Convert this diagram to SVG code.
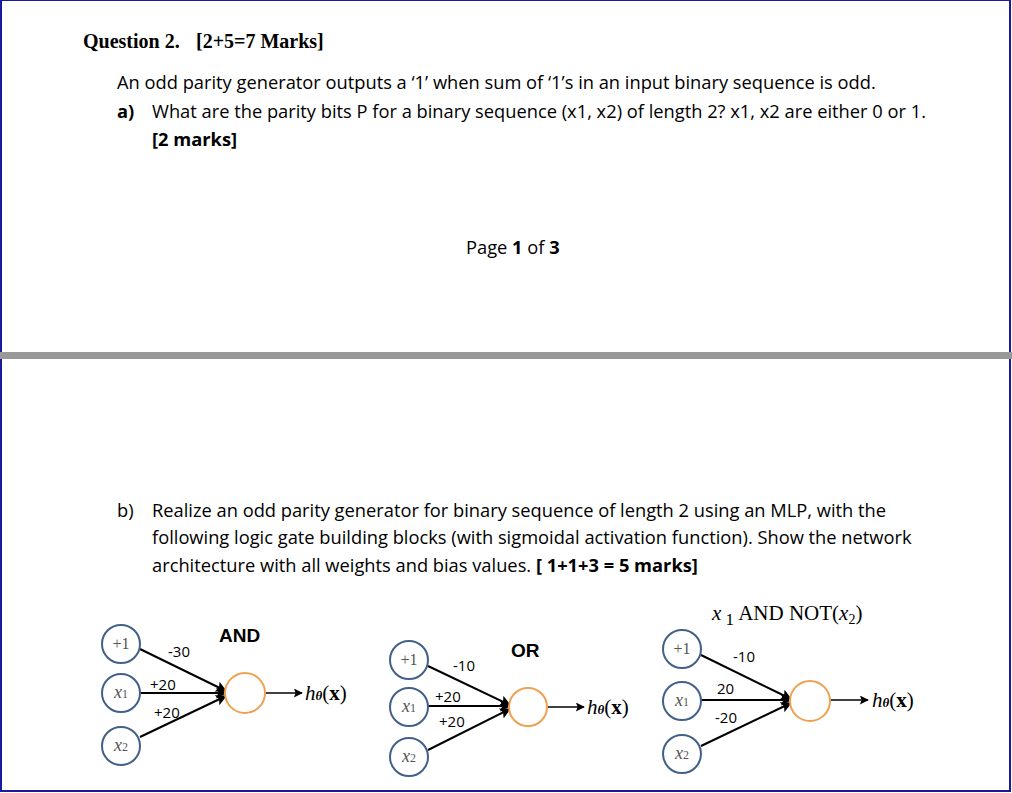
<svg xmlns="http://www.w3.org/2000/svg" width="1012" height="793" viewBox="0 0 1012 793">
<defs>
<marker id="ah" viewBox="0 0 10 10" refX="9" refY="5" markerWidth="10" markerHeight="9" orient="auto" markerUnits="userSpaceOnUse"><path d="M0,0 L10,5 L0,10 L2,5 z" fill="#000"/></marker>
<marker id="ah2" viewBox="0 0 10 10" refX="9" refY="5" markerWidth="12" markerHeight="11" orient="auto" markerUnits="userSpaceOnUse"><path d="M0,0 L10,5 L0,10 L2,5 z" fill="#000"/></marker>
</defs>
<style>
.t{font-family:"Open Sans","Liberation Sans",sans-serif;font-size:18.3px;fill:#000}
.q{font-family:"Liberation Serif",serif;font-weight:bold;font-size:20px}
.in{fill:#fff;stroke:#41608a;stroke-width:2}
.out{fill:#fff;stroke:#f0a050;stroke-width:2}
.nl{font-family:"Liberation Serif",serif;font-style:italic;font-size:18px;fill:#555;text-anchor:middle}
.p1{font-family:"Liberation Serif",serif;font-size:16px;fill:#555;text-anchor:middle}
.w{font-family:"Open Sans","Liberation Sans",sans-serif;font-size:15px}
.e{stroke:#000;stroke-width:2;fill:none}
.h{font-family:"Liberation Serif",serif;font-size:21px}
.g{font-family:"Liberation Sans",sans-serif;font-weight:bold;font-size:19px}
.s{font-size:12px;font-style:normal}
</style>
<rect width="1012" height="793" fill="#fff"/>
<rect x="1" y="0" width="1009" height="791" fill="none" stroke="#1a1aa0" stroke-width="2"/>
<rect x="0" y="352" width="1012" height="7" fill="#999"/>
<text x="83" y="48" class="q">Question 2.<tspan x="196">[2+5=7 Marks]</tspan></text>
<text x="117" y="89" class="t">An odd parity generator outputs a ‘1’ when sum of ‘1’s in an input binary sequence is odd.</text>
<text x="117" y="118" class="t"><tspan font-weight="bold">a)</tspan><tspan x="152">What are the parity bits P for a binary sequence (x1, x2) of length 2? x1, x2 are either 0 or 1.</tspan></text>
<text x="152" y="146" class="t" font-weight="bold">[2 marks]</text>
<text x="466" y="254" class="t">Page <tspan font-weight="bold">1</tspan> of <tspan font-weight="bold">3</tspan></text>
<text x="117" y="517" class="t">b)<tspan x="152">Realize an odd parity generator for binary sequence of length 2 using an MLP, with the</tspan></text>
<text x="152" y="544" class="t">following logic gate building blocks (with sigmoidal activation function). Show the network</text>
<text x="152" y="572" class="t">architecture with all weights and bias values. <tspan font-weight="bold">[ 1+1+3 = 5 marks]</tspan></text>

<g id="connectors">
<line class="e" x1="140" y1="649" x2="226" y2="691" marker-end="url(#ah2)"/>
<line class="e" x1="140" y1="693" x2="226" y2="693" marker-end="url(#ah2)"/>
<line class="e" x1="140" y1="737" x2="226" y2="696" marker-end="url(#ah2)"/>
<line stroke="#000" stroke-width="1.5" x1="265" y1="693" x2="302" y2="693" marker-end="url(#ah)"/>
<line class="e" x1="428" y1="666" x2="510" y2="705" marker-end="url(#ah2)"/>
<line class="e" x1="428" y1="706" x2="510" y2="706" marker-end="url(#ah2)"/>
<line class="e" x1="428" y1="750" x2="510" y2="709" marker-end="url(#ah2)"/>
<line stroke="#000" stroke-width="1.5" x1="548" y1="707" x2="584" y2="707" marker-end="url(#ah)"/>
<line class="e" x1="701" y1="655" x2="791" y2="699" marker-end="url(#ah2)"/>
<line class="e" x1="701" y1="700" x2="791" y2="700" marker-end="url(#ah2)"/>
<line class="e" x1="701" y1="746" x2="791" y2="703" marker-end="url(#ah2)"/>
<line stroke="#000" stroke-width="1.5" x1="830" y1="700" x2="868" y2="700" marker-end="url(#ah)"/>
</g>

<g id="and">
<circle class="in" cx="121" cy="644" r="19"/><text class="p1" x="121" y="649">+1</text>
<circle class="in" cx="121" cy="693" r="19"/><text class="nl" x="121" y="698">x<tspan class="s">1</tspan></text>
<circle class="in" cx="121" cy="746" r="19"/><text class="nl" x="121" y="751">x<tspan class="s">2</tspan></text>
<circle class="out" cx="245" cy="693" r="20"/>
<text class="g" x="219" y="642">AND</text>
<text class="w" x="168" y="657">-30</text>
<text class="w" x="150" y="690">+20</text>
<text class="w" x="154" y="718">+20</text>
<text class="h" x="305" y="700"><tspan font-style="italic">h</tspan><tspan font-size="13" font-weight="bold" font-style="italic">θ</tspan>(<tspan font-weight="bold">x</tspan>)</text>
</g>

<g id="or">
<circle class="in" cx="409" cy="660" r="19"/><text class="p1" x="409" y="665">+1</text>
<circle class="in" cx="409" cy="707" r="19"/><text class="nl" x="409" y="712">x<tspan class="s">1</tspan></text>
<circle class="in" cx="409" cy="757" r="19"/><text class="nl" x="409" y="762">x<tspan class="s">2</tspan></text>
<circle class="out" cx="528" cy="707" r="19"/>
<text class="g" x="511" y="657">OR</text>
<text class="w" x="453" y="671">-10</text>
<text class="w" x="435" y="702">+20</text>
<text class="w" x="439" y="727">+20</text>
<text class="h" x="587" y="714"><tspan font-style="italic">h</tspan><tspan font-size="13" font-weight="bold" font-style="italic">θ</tspan>(<tspan font-weight="bold">x</tspan>)</text>
</g>

<g id="andnot">
<circle class="in" cx="682" cy="649" r="19"/><text class="p1" x="682" y="654">+1</text>
<circle class="in" cx="682" cy="701" r="19"/><text class="nl" x="682" y="706">x<tspan class="s">1</tspan></text>
<circle class="in" cx="682" cy="754" r="19"/><text class="nl" x="682" y="759">x<tspan class="s">2</tspan></text>
<circle class="out" cx="810" cy="701" r="20"/>
<text class="h" x="712" y="620"><tspan font-style="italic">x</tspan><tspan font-size="17" dy="5"> 1</tspan><tspan dy="-5"> AND NOT(</tspan><tspan font-style="italic">x</tspan><tspan font-size="14" dy="4">2</tspan><tspan dy="-4">)</tspan></text>
<text class="w" x="733" y="662">-10</text>
<text class="w" x="717" y="694">20</text>
<text class="w" x="715" y="723">-20</text>
<text class="h" x="872" y="707"><tspan font-style="italic">h</tspan><tspan font-size="13" font-weight="bold" font-style="italic">θ</tspan>(<tspan font-weight="bold">x</tspan>)</text>
</g>
</svg>
